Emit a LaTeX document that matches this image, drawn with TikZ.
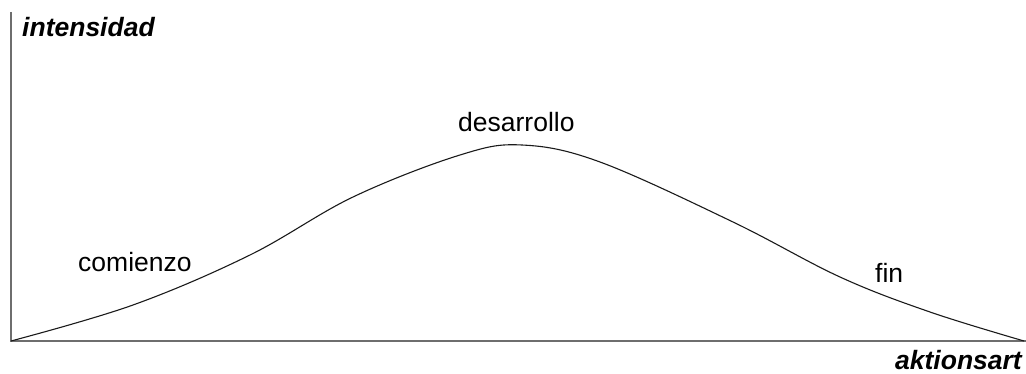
\documentclass[tikz,border=0pt]{standalone}
\usepackage{xcolor}
\usepackage{tikz}
\usetikzlibrary{positioning,calc}
\usepackage{fontspec}
\setmainfont{Liberation Sans}
\definecolor{axiscolor}{HTML}{6E6E6E}
\definecolor{curvecolor}{HTML}{1A1A1A}

\begin{document}
\begin{tikzpicture}[x=1pt,y=-1pt,
    axisline/.style={draw=axiscolor,line width=1.4pt},
    curveline/.style={draw=curvecolor,line width=1.1pt},
    axislabel/.style={inner sep=0pt,font=\fontsize{26.5}{30}\selectfont\bfseries\itshape},
    phaselabel/.style={inner sep=0pt,font=\fontsize{26.5}{30}\selectfont}]
    \useasboundingbox (0,0) rectangle (1026,374);
    % axes
    \coordinate (origin) at (11,341);
    \coordinate (ytop) at (11,12);
    \coordinate (xend) at (1026,341);
    \draw[axisline] (ytop) -- (origin) -- (xend);
    % curve
    \draw[curveline] plot[smooth,tension=0.6] coordinates {
      (11,341) (133,305) (250,255) (353,197) (460,155) (522,145)
      (600,162) (733,222) (840,277) (930,312) (1024,341)};
    % labels
    \node[axislabel,anchor=base west] (intens) at (22,37) {intensidad};
    \node[axislabel,anchor=base east] (aktion) at (1022,369) {aktionsart};
    \node[phaselabel,anchor=base west] (desarr) at (458,132) {desarrollo};
    \node[phaselabel,anchor=base west] (comien) at (78,272) {comienzo};
    \node[phaselabel,anchor=base west] (fin) at (875,283) {fin};
\end{tikzpicture}
\end{document}
